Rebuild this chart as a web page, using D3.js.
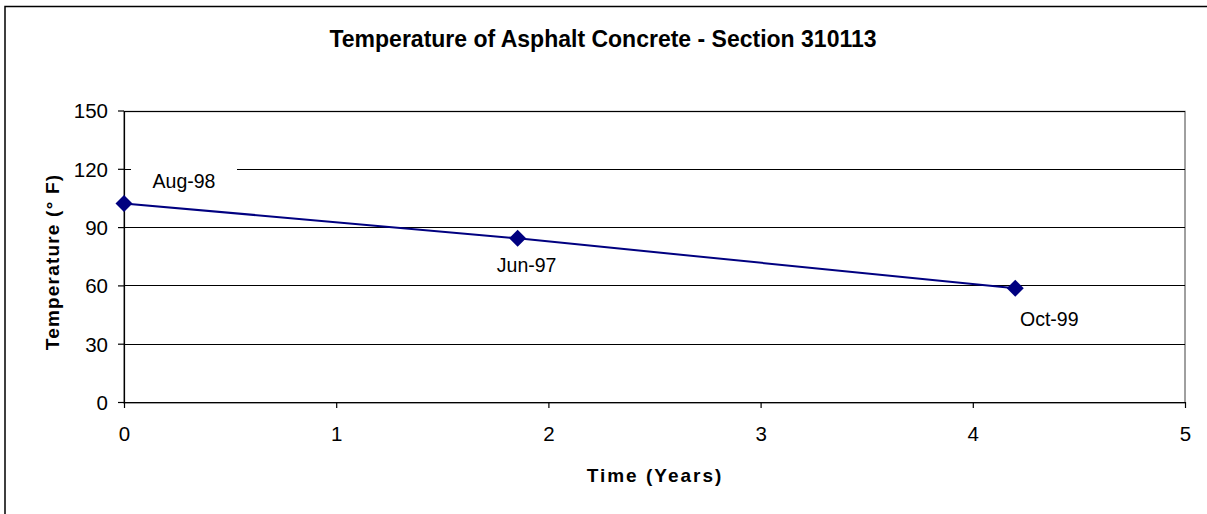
<!DOCTYPE html>
<html>
<head>
<meta charset="utf-8">
<script src="https://cdn.jsdelivr.net/npm/d3@7"></script>
<style>
  html, body { margin: 0; padding: 0; background: #fff; }
  svg { display: block; font-family: Arial, "Liberation Sans", sans-serif; }
</style>
</head>
<body>
<svg id="chart" width="1207" height="514"></svg>
<script>
// Temperature readings by elapsed time
const timeYears = [0, 1.855, 4.2];
const temperatureF = [102.2, 84.2, 58.5];
const pointLabels = ["Aug-98", "Jun-97", "Oct-99"];
const xTicks = [0, 1, 2, 3, 4, 5];
const yTicks = [0, 30, 60, 90, 120, 150];

const svg = d3.select("#chart");
const W = 1207, H = 514;
const plot = { left: 124, right: 1185, top: 110.5, bottom: 402 };

const x = d3.scaleLinear().domain([0, 5]).range([plot.left, plot.right]);
const y = d3.scaleLinear().domain([0, 150]).range([plot.bottom, plot.top]);

// chart frame (only top/left edges fall inside the window)
svg.append("rect")
  .attr("x", 5).attr("y", 6.5).attr("width", W + 20).attr("height", H + 20)
  .attr("fill", "#fff").attr("stroke", "#000").attr("stroke-width", 1.5);

// title
svg.append("text")
  .attr("x", 603).attr("y", 46.5)
  .attr("text-anchor", "middle")
  .attr("font-size", 23).attr("font-weight", "bold")
  .text("Temperature of Asphalt Concrete - Section 310113");

// plot area border (grey)
svg.append("rect")
  .attr("x", plot.left).attr("y", Math.round(plot.top) + 0.5)
  .attr("width", plot.right - plot.left).attr("height", plot.bottom - plot.top)
  .attr("fill", "none").attr("stroke", "#808080").attr("stroke-width", 1.5);

// horizontal gridlines
svg.append("g").selectAll("line")
  .data(yTicks.filter(v => v > 0))
  .join("line")
  .attr("x1", plot.left).attr("x2", plot.right)
  .attr("y1", d => Math.round(y(d)) + 0.5).attr("y2", d => Math.round(y(d)) + 0.5)
  .attr("stroke", "#000").attr("stroke-width", 1.2);

// y axis
const yAxis = svg.append("g")
  .attr("transform", `translate(${plot.left},0)`)
  .call(d3.axisLeft(y).tickValues(yTicks).tickFormat(d3.format("d"))
    .tickSize(6).tickPadding(10).tickSizeOuter(0));
// x axis
const xAxis = svg.append("g")
  .attr("transform", `translate(0,${plot.bottom})`)
  .call(d3.axisBottom(x).tickValues(xTicks).tickFormat(d3.format("d"))
    .tickSize(6).tickPadding(18).tickSizeOuter(0));

[yAxis, xAxis].forEach(g => {
  g.select(".domain").attr("stroke", "#000").attr("stroke-width", 1.2);
  g.selectAll(".tick line").attr("stroke", "#000").attr("stroke-width", 1.2);
  g.selectAll(".tick text")
    .attr("font-family", "Arial, 'Liberation Sans', sans-serif")
    .attr("font-size", 20.5).attr("fill", "#000");
});
yAxis.selectAll(".tick text").attr("dy", "0.36em");

// axis titles
svg.append("text")
  .attr("x", 655).attr("y", 482)
  .attr("text-anchor", "middle")
  .attr("font-size", 19).attr("font-weight", "bold")
  .attr("letter-spacing", 2)
  .text("Time (Years)");

svg.append("text")
  .attr("transform", "translate(59,262) rotate(-90)")
  .attr("text-anchor", "middle")
  .attr("font-size", 19).attr("font-weight", "bold")
  .attr("letter-spacing", 1.2)
  .text("Temperature (° F)");

const pts = timeYears.map((t, i) => ({ t, v: temperatureF[i], label: pointLabels[i] }));

// data labels with white backing
const labelOffsets = [[60, -22], [9, 27], [34, 31]];
const lg = svg.append("g");
pts.forEach((p, i) => {
  const cx = x(p.t) + labelOffsets[i][0];
  const cy = y(p.v) + labelOffsets[i][1];
  lg.append("rect")
    .attr("x", cx - 53).attr("y", cy - 14).attr("width", 106).attr("height", 28)
    .attr("fill", "#fff");
  lg.append("text")
    .attr("x", cx).attr("y", cy).attr("dy", "0.36em")
    .attr("text-anchor", "middle")
    .attr("font-size", 19.5)
    .text(p.label);
});

// series line
svg.append("path")
  .datum(pts)
  .attr("fill", "none").attr("stroke", "#000080").attr("stroke-width", 2)
  .attr("d", d3.line().x(d => x(d.t)).y(d => y(d.v)));

// diamond markers
const r = 8.5;
svg.append("g").selectAll("path")
  .data(pts)
  .join("path")
  .attr("fill", "#000080")
  .attr("d", d => {
    const cx = x(d.t), cy = y(d.v);
    return `M${cx},${cy - r}L${cx + r},${cy}L${cx},${cy + r}L${cx - r},${cy}Z`;
  });
</script>
</body>
</html>
